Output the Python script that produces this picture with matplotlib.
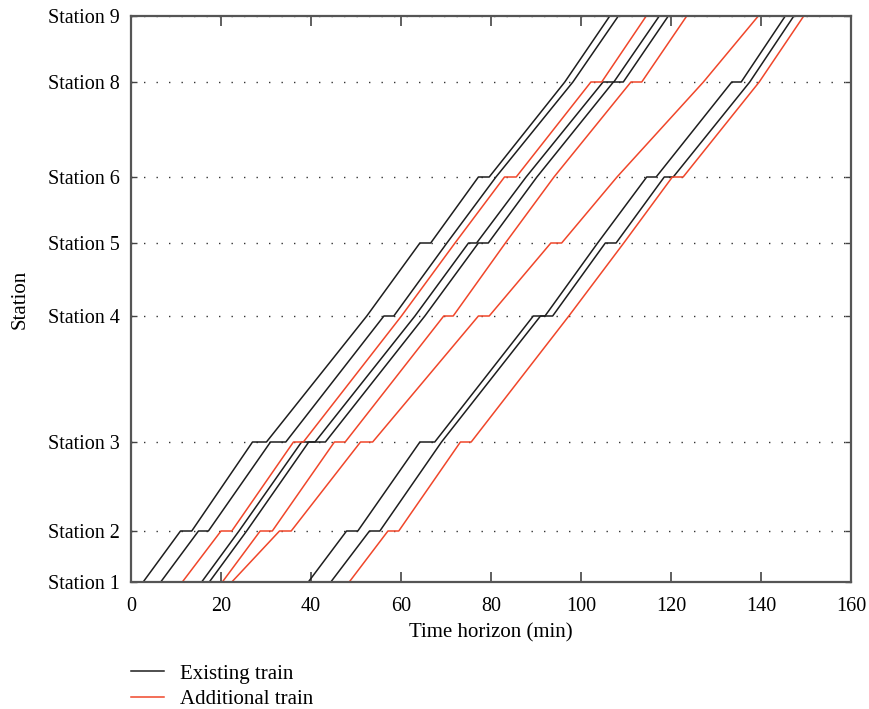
import matplotlib
matplotlib.use("Agg")
import matplotlib.pyplot as plt
from matplotlib.lines import Line2D

plt.rcParams["font.family"] = ["Liberation Serif", "DejaVu Serif"]

# ── Stations (vertical position along the line) ──────────────────────────────
station_names = ["Station 1", "Station 2", "Station 3", "Station 4",
                 "Station 5", "Station 6", "Station 8", "Station 9"]
station_pos = [0.0, 5.1, 14.0, 26.6, 33.9, 40.5, 50.0, 56.6]

# ── Arrival / departure times (min) at each station ──────────────────────────
# existing trains
e1_arr = [2.7, 11.0, 27.0, 52.4, 64.2, 77.2, 96.4, 106.4]
e1_dep = [2.7, 13.5, 30.1, 52.4, 66.6, 79.6, 96.4, 106.4]
e2_arr = [6.6, 15.0, 31.0, 56.2, 70.2, 81.1, 98.2, 108.3]
e2_dep = [6.6, 17.2, 34.4, 58.4, 70.2, 81.1, 98.2, 108.3]
e3_arr = [15.7, 24.0, 37.9, 63.1, 75.0, 87.8, 104.9, 117.4]
e3_dep = [15.7, 24.0, 40.9, 63.1, 76.8, 87.8, 107.3, 117.4]
e4_arr = [17.4, 25.7, 39.5, 65.3, 77.2, 90.2, 107.2, 119.4]
e4_dep = [17.4, 25.7, 43.2, 65.3, 79.4, 90.2, 109.4, 119.4]
e5_arr = [39.4, 47.9, 64.2, 89.4, 103.7, 114.6, 133.5, 145.4]
e5_dep = [39.4, 50.4, 67.5, 92.0, 103.7, 116.7, 135.6, 145.4]
e6_arr = [44.4, 53.0, 69.0, 91.0, 105.4, 118.5, 137.5, 147.3]
e6_dep = [44.4, 55.3, 69.0, 93.7, 107.8, 120.5, 137.5, 147.3]

# additional trains
a1_arr = [11.4, 20.0, 36.1, 60.1, 72.0, 83.0, 102.2, 114.5]
a1_dep = [11.4, 22.4, 38.3, 60.1, 72.0, 85.6, 104.6, 114.5]
a2_arr = [20.3, 28.7, 45.2, 69.5, 83.2, 94.0, 111.1, 123.5]
a2_dep = [20.3, 31.4, 47.6, 71.6, 83.2, 94.0, 113.5, 123.5]
a3_arr = [22.4, 33.0, 51.0, 77.2, 93.3, 108.0, 127.2, 139.4]
a3_dep = [22.4, 35.6, 53.7, 79.6, 95.7, 108.0, 127.2, 139.4]
a4_arr = [48.5, 57.1, 73.2, 97.3, 109.5, 120.3, 139.6, 149.5]
a4_dep = [48.5, 59.5, 75.6, 97.3, 109.5, 122.7, 139.6, 149.5]

existing = [(e1_arr, e1_dep), (e2_arr, e2_dep), (e3_arr, e3_dep),
            (e4_arr, e4_dep), (e5_arr, e5_dep), (e6_arr, e6_dep)]
additional = [(a1_arr, a1_dep), (a2_arr, a2_dep), (a3_arr, a3_dep),
              (a4_arr, a4_dep)]

BLACK = "#1e1e1e"
RED = "#f0462a"
FS = 14.5      # tick labels
FS_LAB = 15    # axis labels / legend


def path(arr, dep):
    """Turn arrival/departure lists into a polyline (time, position)."""
    xs, ys = [], []
    for a, d, p in zip(arr, dep, station_pos):
        xs += [a, d]
        ys += [p, p]
    return xs, ys


fig = plt.figure(figsize=(8.69, 7.09), dpi=100)
ax = fig.add_axes([131 / 869, 1 - 582 / 709, 720 / 869, 566 / 709])

for arr, dep in existing:
    ax.plot(*path(arr, dep), color=BLACK, lw=1.1)
for arr, dep in additional:
    ax.plot(*path(arr, dep), color=RED, lw=1.1)

ax.set_xlim(0, 160)
ax.set_ylim(station_pos[0], station_pos[-1])
ax.set_xticks(range(0, 161, 20))
ax.set_yticks(station_pos)
ax.set_yticklabels(station_names)
ax.grid(axis="y", linestyle=(0, (1, 8)), color="#333333", lw=1.0)

ax.tick_params(axis="x", direction="in", top=True, length=7, width=1.2,
               labelsize=FS, pad=11, color="#444444")
ax.tick_params(axis="y", direction="in", right=True, length=4, width=1.0,
               labelsize=FS, pad=8, color="#444444")
for sp in ax.spines.values():
    sp.set_color("#555555")
    sp.set_linewidth(1.6)

ax.set_xlabel("Time horizon (min)", fontsize=FS_LAB, labelpad=5)
ax.set_ylabel("Station", fontsize=FS_LAB, labelpad=13)

# ── Legend below the plot ─────────────────────────────────────────────────────
handles = [Line2D([], [], color=BLACK, lw=1.1),
           Line2D([], [], color=RED, lw=1.1)]
fig.legend(handles, ["Existing train", "Additional train"],
           loc="upper left", bbox_to_anchor=(131 / 869, 1 - 664 / 709),
           frameon=False, fontsize=FS_LAB, handlelength=1.6, handletextpad=0.75,
           labelspacing=0.3, borderpad=0, borderaxespad=0)

fig.savefig("out.png", dpi=100)
